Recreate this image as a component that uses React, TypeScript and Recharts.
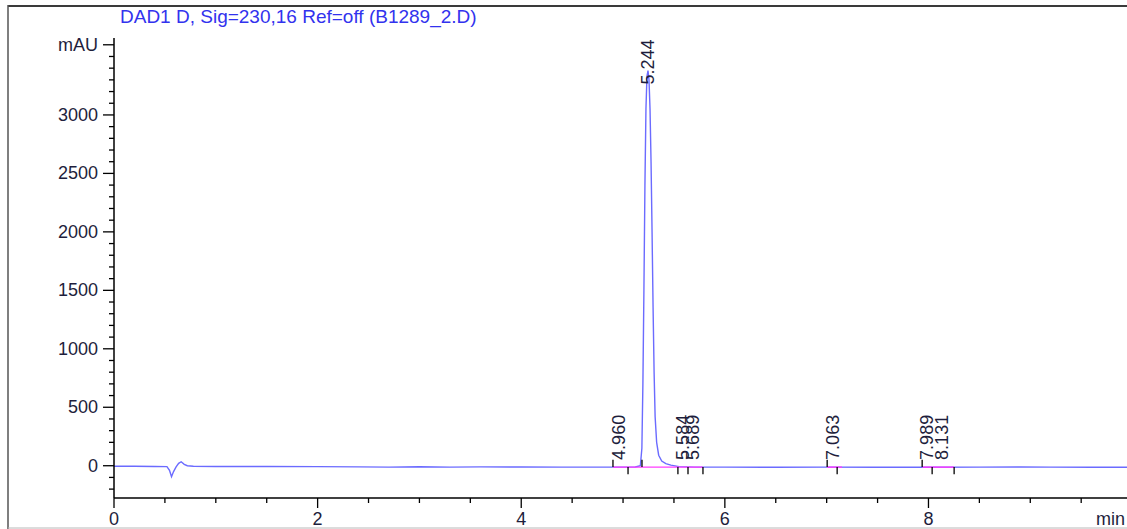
import React from 'react';
import { ComposedChart, Line, XAxis, YAxis, Scatter, ReferenceLine } from 'recharts';

// Chromatogram trace (min, mAU)
const retentionTime = [
  0, 0.2, 0.4, 0.52, 0.545, 0.565, 0.585, 0.61, 0.635, 0.66, 0.69, 0.72, 0.78, 1.0, 1.5,
  2.0, 2.4, 2.7, 3.0, 3.3, 3.6, 4.0, 4.4, 4.8, 5.0, 5.12, 5.17, 5.185, 5.195, 5.205,
  5.215, 5.225, 5.235, 5.245, 5.255, 5.265, 5.275, 5.285, 5.295, 5.305, 5.315, 5.33, 5.35, 5.38, 5.42,
  5.47, 5.55, 5.7, 6.0, 6.5, 7.0, 7.5, 8.0, 8.5, 8.9, 9.2, 9.6, 9.95,
];
const absorbance = [
  -5, -5, -6, -8, -40, -94, -50, -10, 20, 34, 12, 0, -4, -6, -7,
  -8, -10, -12, -9, -12, -10, -11, -12, -12, -12, -11, 0, 150, 700, 1500,
  2400, 3050, 3330, 3380, 3300, 3050, 2600, 2000, 1350, 800, 420, 200, 90, 40, 18,
  5, -8, -12, -12, -13, -12, -13, -13, -12, -11, -12, -13, -13,
];

// Peak annotations
const peakTimes = [4.96, 5.244, 5.584, 5.689, 7.063, 7.989, 8.131];
const peakLabels = ['4.960', '5.244', '5.584', '5.689', '7.063', '7.989', '8.131'];
const peakLabelAnchor = [-10, 3200, -10, -10, -10, -10, -10];

// Integration baselines and event marks
const baselineStarts = [4.9, 7.005, 7.94];
const baselineEnds = [5.785, 7.15, 8.25];
const baselineLevel = -12;
const eventTimes = [4.901, 5.049, 5.186, 5.539, 5.638, 5.785, 7.005, 7.103, 7.938, 8.036, 8.252];
const eventDirection = [1, -1, 1, -1, -1, -1, 1, -1, 1, -1, -1];

// Axes
const xTicks = Array.from({ length: 20 }, (_, i) => i * 0.5);
const xLabels = [0, 2, 4, 6, 8];
const yTicks = Array.from({ length: 39 }, (_, i) => -200 + i * 100);
const yLabels = [0, 500, 1000, 1500, 2000, 2500, 3000];
const yUnitTick = 3600;

const chromData = retentionTime.map((t, i) => ({ t, v: absorbance[i] }));
const labelData = peakTimes.map((t, i) => ({ t, v: peakLabelAnchor[i], label: peakLabels[i] }));

const FONT = 'Liberation Sans, Arial, sans-serif';
const TXT = '#1e1e3c';

const XTick = (props: any) => {
  const { x, y, payload } = props;
  const v = payload.value;
  const major = xLabels.some((l) => Math.abs(l - v) < 1e-6);
  return (
    <g>
      <line x1={x} x2={x} y1={y} y2={y + (major ? 10 : 5)} stroke="#000" strokeWidth={1.3} />
      {major && (
        <text x={x} y={y + 27} textAnchor="middle" fontSize={18} fontFamily={FONT} fill={TXT}>
          {v}
        </text>
      )}
    </g>
  );
};

const YTick = (props: any) => {
  const { x, y, payload } = props;
  const v = payload.value;
  const isLabel = yLabels.includes(v);
  const isUnit = v === yUnitTick;
  const major = isLabel || isUnit;
  return (
    <g>
      <line x1={x - (major ? 11 : 5)} x2={x} y1={y} y2={y} stroke="#000" strokeWidth={1.3} />
      {major && (
        <text x={x - 16} y={y + 6} textAnchor="end" fontSize={18} fontFamily={FONT} fill={TXT}>
          {isUnit ? 'mAU' : v}
        </text>
      )}
    </g>
  );
};

const PeakLabel = (props: any) => {
  const { cx, cy, payload } = props;
  return (
    <text
      transform={`translate(${cx + 6},${cy - 7}) rotate(-90)`}
      fontSize={18}
      fontFamily={FONT}
      fill={TXT}
      textAnchor="start"
    >
      {payload.label}
    </text>
  );
};

export default function App() {
  return (
    <div style={{ position: 'absolute', left: 0, top: 0, width: 1127, height: 529, overflow: 'hidden', background: '#fff' }}>
      <svg
        width={1127}
        height={529}
        style={{ position: 'absolute', left: 0, top: 0, pointerEvents: 'none' }}
      >
        <line x1={8} x2={1127} y1={6} y2={6} stroke="#3a3a3a" strokeWidth={2.2} />
        <line x1={8} x2={8} y1={5} y2={529} stroke="#555" strokeWidth={1.5} />
        <line x1={8} x2={1127} y1={528} y2={528} stroke="#b8b8b8" strokeWidth={1} />
      </svg>
      <div style={{ position: 'absolute', left: 0, top: 0 }}>
        <ComposedChart width={1127} height={529} margin={{ top: 38, right: 0, bottom: 0, left: 14 }}>
          <XAxis
            type="number"
            dataKey="t"
            domain={[0, 9.95]}
            allowDataOverflow
            ticks={xTicks}
            interval={0}
            tick={<XTick />}
            tickLine={false}
            tickSize={0}
            tickMargin={0}
            height={31}
            axisLine={{ stroke: '#000', strokeWidth: 1.5 }}
          />
          <YAxis
            type="number"
            dataKey="v"
            domain={[-276, 3658]}
            allowDataOverflow
            ticks={yTicks}
            interval={0}
            tick={<YTick />}
            tickLine={false}
            tickSize={0}
            tickMargin={0}
            width={100}
            axisLine={{ stroke: '#000', strokeWidth: 1.5 }}
          />
          <Line
            data={chromData}
            dataKey="v"
            type="linear"
            stroke="#6b6bff"
            strokeWidth={1.4}
            dot={false}
            isAnimationActive={false}
          />
          {baselineStarts.map((s, i) => (
            <Line
              key={'bl' + i}
              data={[
                { t: s, v: baselineLevel },
                { t: baselineEnds[i], v: baselineLevel },
              ]}
              dataKey="v"
              type="linear"
              stroke="#ff3cff"
              strokeWidth={1.4}
              dot={false}
              isAnimationActive={false}
            />
          ))}
          {eventTimes.map((t, i) => (
            <ReferenceLine
              key={'ev' + i}
              segment={[
                { x: t, y: -11 },
                { x: t, y: -11 + eventDirection[i] * 62 },
              ]}
              stroke="#000"
              strokeWidth={1.3}
            />
          ))}
          <Scatter data={labelData} dataKey="v" shape={<PeakLabel />} isAnimationActive={false} />
        </ComposedChart>
      </div>
      <svg
        width={1127}
        height={529}
        style={{ position: 'absolute', left: 0, top: 0, pointerEvents: 'none' }}
      >
        <text x={120} y={23} fontSize={19} fontFamily={FONT} fill="#3232ee">
          DAD1 D, Sig=230,16 Ref=off (B1289_2.D)
        </text>
        <text x={1125} y={525} textAnchor="end" fontSize={18} fontFamily={FONT} fill={TXT}>
          min
        </text>
      </svg>
    </div>
  );
}
